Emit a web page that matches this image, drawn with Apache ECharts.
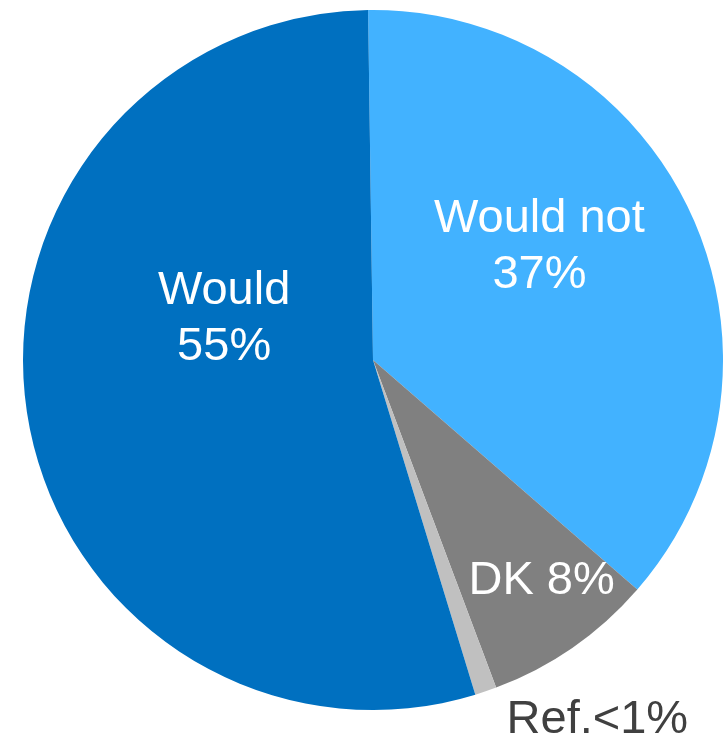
<!DOCTYPE html>
<html>
<head>
<meta charset="utf-8">
<script src="https://cdn.jsdelivr.net/npm/echarts@6/dist/echarts.min.js"></script>
<style>
html,body{margin:0;padding:0;background:#fff;}
#chart{width:723px;height:741px;}
</style>
</head>
<body>
<div id="chart"></div>
<script>
const categories = ['Would not', 'DK', 'Ref.', 'Would'];
const values = [36.6, 7.9, 1.0, 54.5];
const labelTexts = ['Would not\n37%', 'DK 8%', 'Ref.<1%', 'Would\n55%'];

const colors = ['#42B2FF', '#808080', '#C0C0C0', '#0070C0'];
const labelOffsets = [[5, -38], [67, 75], [167, 192], [27, -68]];
const labelColors = ['#ffffff', '#ffffff', '#404040', '#ffffff'];

const chart = echarts.init(document.getElementById('chart'), null, {renderer: 'canvas'});
const data = categories.map((c, i) => ({
  name: c,
  value: values[i],
  itemStyle: {color: colors[i]},
  label: {
    formatter: labelTexts[i],
    offset: labelOffsets[i],
    color: labelColors[i]
  }
}));
chart.setOption({
  animation: false,
  series: [{
    type: 'pie',
    center: [373, 360],
    radius: [0, 350],
    startAngle: 90.8,
    clockwise: true,
    avoidLabelOverlap: false,
    itemStyle: {borderWidth: 0},
    label: {
      show: true,
      position: 'inside',
      fontFamily: 'Liberation Sans, Arial, sans-serif',
      fontSize: 47,
      lineHeight: 56,
      align: 'center'
    },
    labelLine: {show: false},
    emphasis: {disabled: true},
    data: data
  }]
});
</script>
</body>
</html>
